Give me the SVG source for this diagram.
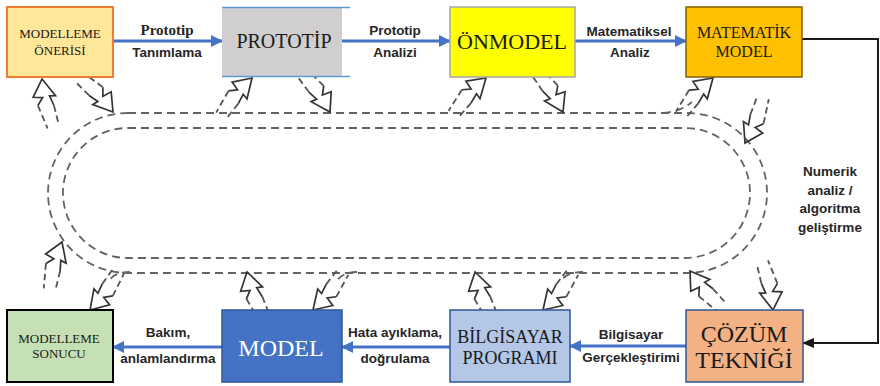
<svg xmlns="http://www.w3.org/2000/svg" width="880" height="386" viewBox="0 0 880 386">
<style>
.track{fill:none;stroke:#636363;stroke-width:1.8;stroke-dasharray:8 5}
.bsolid{fill:none;stroke:#333;stroke-width:1.3;stroke-linejoin:miter}
.bdash{fill:none;stroke:#555;stroke-width:1.4;stroke-dasharray:5 3}
.bt{font-family:"Liberation Serif","Times New Roman",serif;text-anchor:middle;fill:#1a1a1a}
.lbl{font-family:"Liberation Sans",Arial,sans-serif;font-weight:bold;font-size:13.5px;text-anchor:middle;fill:#262626}
.blue{stroke:#4472C4;stroke-width:3;fill:none}
</style>
<defs>
<marker id="blueHead" markerUnits="userSpaceOnUse" markerWidth="12" markerHeight="12" viewBox="0 0 12 12" refX="11" refY="6" orient="auto"><path d="M0,0 L12,6 L0,12 Z" fill="#4472C4"/></marker>
<marker id="blackHead" markerUnits="userSpaceOnUse" markerWidth="12" markerHeight="10" viewBox="0 0 12 10" refX="11" refY="5" orient="auto"><path d="M0,0 L12,5 L0,10 Z" fill="#1a1a1a"/></marker>
<g id="bolt">
<path class="bsolid" d="M-19,-8 L-14,-3 L-12,-10 L0,0 L-15,7 L-14,2.5 L-22,4"/>
<path class="bdash" d="M-19,-8 L-38,-5 M-22,4 L-38,4"/>
</g>
</defs>

<g id="connectors">
<rect class="track" x="48" y="113" width="719" height="160" rx="80" ry="80"/>
<rect class="track" x="63" y="128" width="687" height="130" rx="65" ry="65"/>
<path class="track" d="M663,113 Q680,112 692,102"/>
<path class="track" d="M583,272 Q566,272 560,282"/>
<path class="track" d="M357,272 Q342,272 336,282"/>
<path class="track" d="M130,272 Q114,272 108,282"/>
<use href="#bolt" transform="translate(42,79) rotate(-104) scale(1.3)"/>
<use href="#bolt" transform="translate(113,112) rotate(45) scale(1.3)"/>
<use href="#bolt" transform="translate(252,78) rotate(-51.5) scale(1.3)"/>
<use href="#bolt" transform="translate(330,112) rotate(53.7) scale(1.3)"/>
<use href="#bolt" transform="translate(486,78) rotate(-48.8) scale(1.3)"/>
<use href="#bolt" transform="translate(563,112) rotate(56) scale(1.3)"/>
<use href="#bolt" transform="translate(713,78) rotate(-49.6) scale(1.3)"/>
<use href="#bolt" transform="translate(745,143) rotate(111) scale(1.3)"/>
<use href="#bolt" transform="translate(773,310) rotate(76.7) scale(1.3)"/>
<use href="#bolt" transform="translate(690,271) rotate(-132) scale(1.3)"/>
<use href="#bolt" transform="translate(543,310) rotate(127.6) scale(1.3)"/>
<use href="#bolt" transform="translate(475,272) rotate(-111.5) scale(1.3)"/>
<use href="#bolt" transform="translate(313,310) rotate(127.6) scale(1.3)"/>
<use href="#bolt" transform="translate(247,272) rotate(-111.5) scale(1.3)"/>
<use href="#bolt" transform="translate(90,310) rotate(125.5) scale(1.3)"/>
<use href="#bolt" transform="translate(62,242) rotate(-76) scale(1.3)"/>

<line class="blue" x1="113" y1="41" x2="222" y2="41" marker-end="url(#blueHead)"/>
<line class="blue" x1="342" y1="41" x2="450" y2="41" marker-end="url(#blueHead)"/>
<line class="blue" x1="575" y1="41" x2="686" y2="41" marker-end="url(#blueHead)"/>
<line class="blue" x1="686" y1="346" x2="570" y2="346" marker-end="url(#blueHead)"/>
<line class="blue" x1="450" y1="347" x2="342" y2="347" marker-end="url(#blueHead)"/>
<line class="blue" x1="222" y1="347" x2="113" y2="347" marker-end="url(#blueHead)"/>
<path d="M802,39 L878,39 L878,343 L803,343" fill="none" stroke="#1a1a1a" stroke-width="2" marker-end="url(#blackHead)"/>

<text class="lbl" x="167" y="35" style="font-family:'Liberation Serif','Times New Roman',serif;font-size:15px">Prototip</text>
<text class="lbl" x="167" y="57">Tanımlama</text>
<text class="lbl" x="395" y="35">Prototip</text>
<text class="lbl" x="395" y="57">Analizi</text>
<text class="lbl" x="629" y="36">Matematiksel</text>
<text class="lbl" x="630" y="57">Analiz</text>
<text class="lbl" x="830" y="176">Numerik</text>
<text class="lbl" x="830" y="195">analiz /</text>
<text class="lbl" x="830" y="213">algoritma</text>
<text class="lbl" x="830" y="232">geliştirme</text>
<text class="lbl" x="631" y="339">Bilgisayar</text>
<text class="lbl" x="631" y="362">Gerçekleştirimi</text>
<text class="lbl" x="395" y="337">Hata ayıklama,</text>
<text class="lbl" x="395" y="363">doğrulama</text>
<text class="lbl" x="168" y="337">Bakım,</text>
<text class="lbl" x="168" y="363">anlamlandırma</text>
</g>

<g id="modelleme-onerisi">
<rect x="7" y="7" width="106" height="70" fill="#FFE699" stroke="#ED7D31" stroke-width="2"/>
<text class="bt" x="60" y="38" font-size="13">MODELLEME</text>
<text class="bt" x="60" y="55" font-size="13">ÖNERİSİ</text>
</g>
<g id="prototip">
<rect x="222" y="7" width="120" height="70" fill="#D0CECE"/>
<line x1="222" y1="7.5" x2="350" y2="7.5" stroke="#5B9BD5" stroke-width="1.5"/>
<line x1="222" y1="76.5" x2="350" y2="76.5" stroke="#5B9BD5" stroke-width="1.5"/>
<text class="bt" x="284" y="48" font-size="20">PROTOTİP</text>
</g>
<g id="onmodel">
<rect x="450" y="7" width="125" height="70" fill="#FFFF00" stroke="#A6A6A6" stroke-width="1.5"/>
<text class="bt" x="512" y="49" font-size="22">ÖNMODEL</text>
</g>
<g id="matematik-model">
<rect x="686" y="7" width="116" height="70" fill="#FFC000" stroke="#7F6000" stroke-width="1.5"/>
<text class="bt" x="744" y="38" font-size="16">MATEMATİK</text>
<text class="bt" x="744" y="57" font-size="16">MODEL</text>
</g>
<g id="modelleme-sonucu">
<rect x="7" y="310" width="106" height="72" fill="#C5E0B4" stroke="#000" stroke-width="2"/>
<text class="bt" x="59" y="343" font-size="13">MODELLEME</text>
<text class="bt" x="59" y="358" font-size="13">SONUCU</text>
</g>
<g id="model">
<rect x="222" y="310" width="120" height="72" fill="#4472C4" stroke="#2F5597" stroke-width="1.5"/>
<text class="bt" x="281" y="356" font-size="24" style="fill:#fff">MODEL</text>
</g>
<g id="bilgisayar-programi">
<rect x="450" y="310" width="120" height="72" fill="#B4C7E7" stroke="#2F5597" stroke-width="1.5"/>
<text class="bt" x="510" y="343" font-size="18">BİLGİSAYAR</text>
<text class="bt" x="510" y="364" font-size="18">PROGRAMI</text>
</g>
<g id="cozum-teknigi">
<rect x="686" y="310" width="117" height="72" fill="#F4B183" stroke="#2F5597" stroke-width="1.5"/>
<text class="bt" x="744" y="342" font-size="24">ÇÖZÜM</text>
<text class="bt" x="744" y="368" font-size="24">TEKNİĞİ</text>
</g>
</svg>
